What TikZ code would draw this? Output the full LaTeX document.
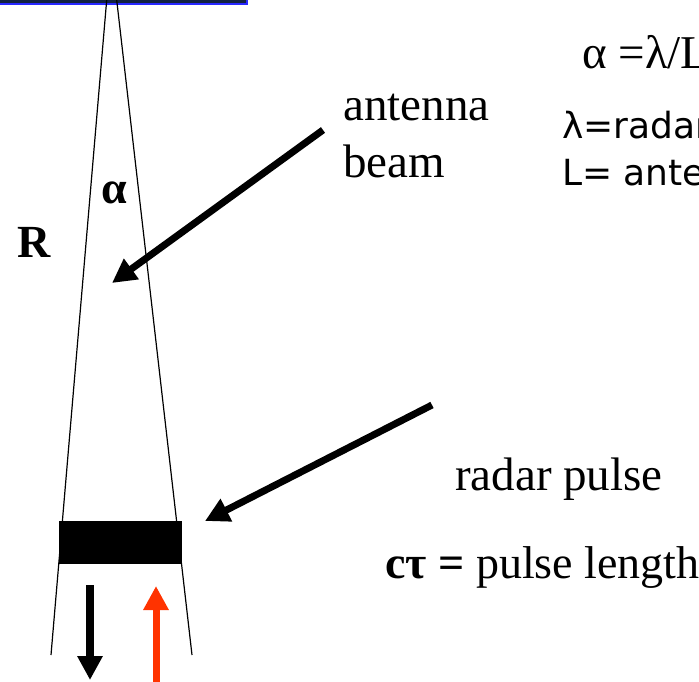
\documentclass[tikz,border=0pt]{standalone}
\usepackage{fontspec}
\setmainfont{Liberation Serif}
\newfontfamily\notefont{DejaVu Sans}
\usepackage{xcolor}
\usetikzlibrary{arrows.meta, positioning, calc}

\definecolor{antennafill}{RGB}{18,34,66}
\definecolor{antennaedge}{RGB}{40,40,255}
\definecolor{echored}{RGB}{255,51,0}

\begin{document}
\begin{tikzpicture}[
    x=1pt, y=-1pt,
    label/.style={inner sep=0pt, anchor=base west, font=\fontsize{47}{50}\selectfont},
    note/.style={inner sep=0pt, anchor=base west, font=\notefont\fontsize{36}{39}\selectfont},
    bigarrow/.style={line width=7pt, -{Triangle[width=24pt,length=24pt]}},
    beamline/.style={line width=1.2pt}
]
\useasboundingbox (0,0) rectangle (699,681);
\begin{scope}
\clip (0,0) rectangle (699,681);

% Antenna
\draw[antennaedge, fill=antennafill, line width=1.5pt] (-5,-5) rectangle (247,4);

% Beam edges
\coordinate (topL) at (106.7,0);
\coordinate (topR) at (116.7,0);
\coordinate (botL) at (51,655);
\coordinate (botR) at (192,655);
\draw[beamline] (topL) -- (botL);
\draw[beamline] (topR) -- (botR);

% Pulse
\node[fill=black, minimum width=123pt, minimum height=43pt, inner sep=0pt] (pulse) at (120.5,542.5) {};

% Labels
\node[label] (antenna) at (343,120) {antenna};
\node[label] (beam) at (343,177) {beam};
\node[label, font=\bfseries\fontsize{46}{50}\selectfont] (range) at (17,257) {R};
\node[label, font=\bfseries\fontsize{46}{50}\selectfont] (alpha) at (101,203) {α};
\node[label, font=\fontsize{47}{50}\selectfont] (relation) at (582,68) {α =λ/L};
\node[note] (lambda) at (562,138) {λ=radar};
\node[note] (length) at (562,185) {L= antenna};
\node[label] (radar) at (455,490) {radar pulse};
\node[label, font=\fontsize{46}{50}\selectfont] (pulselen) at (385,578) {\textbf{cτ =} pulse length};

% Pointers
\coordinate (beamfrom) at (323,130);
\coordinate (beamto) at (112,283);
\coordinate (pulsefrom) at (432,405);
\coordinate (pulseto) at (205,521);
\draw[bigarrow] (beamfrom) -- (beamto);
\draw[bigarrow] (pulsefrom) -- (pulseto);

% Outgoing and returning
\coordinate (outtop) at (90,585);
\coordinate (outtip) at (90,680);
\coordinate (backbot) at (156,690);
\coordinate (backtip) at (156,586);
\draw[bigarrow, line width=8pt] (outtop) -- (outtip);
\draw[bigarrow, echored] (backbot) -- (backtip);
\end{scope}
\end{tikzpicture}
\end{document}
